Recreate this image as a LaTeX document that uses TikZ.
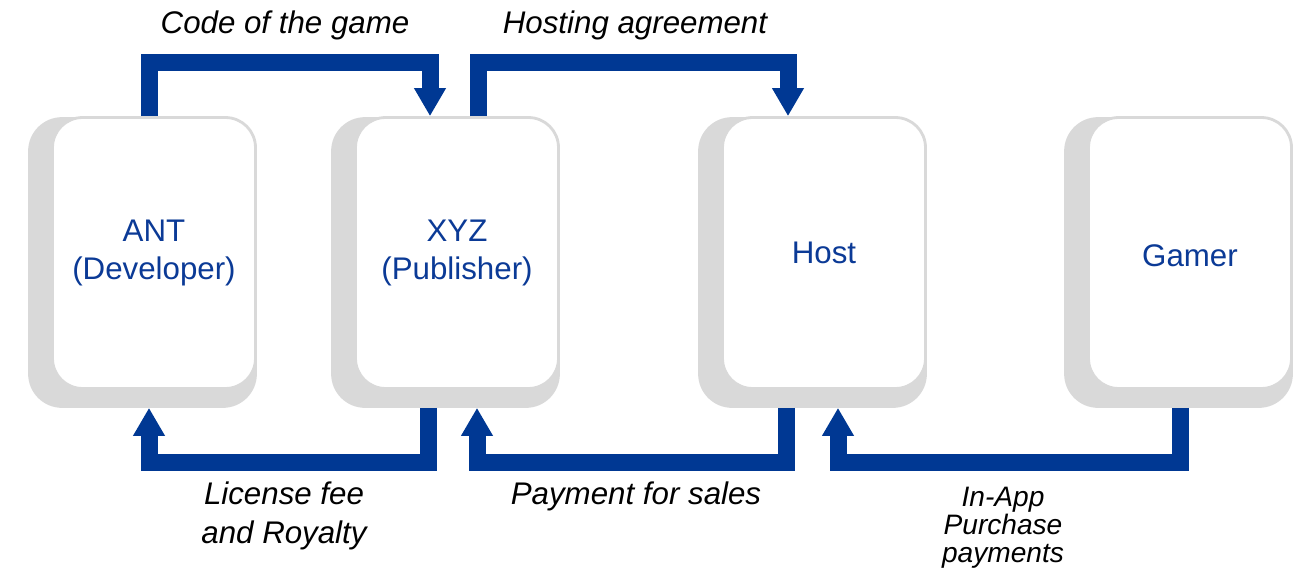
\documentclass[tikz,border=0pt]{standalone}
\usepackage{fontspec}
\setmainfont{Liberation Sans}
\usetikzlibrary{arrows.meta,calc,backgrounds}
\definecolor{flowblue}{HTML}{003893}
\definecolor{boxtext}{HTML}{0B3A96}
\definecolor{slabgray}{HTML}{D9D9D9}
\tikzset{
  party/.style={draw=slabgray, line width=1.6pt, fill=white, rounded corners=0.6cm,
    minimum width=4.06cm, minimum height=5.42cm, inner sep=0pt, align=center,
    text=boxtext, font=\fontsize{17.8}{21.5}\selectfont},
  flow/.style={draw=flowblue, line width=0.34cm, line join=miter,
    -{Triangle[length=0.56cm,width=0.6cm]}},
  lbl/.style={align=center, inner sep=0pt, text=black,
    font=\fontsize{17.8}{22}\selectfont\itshape},
  smalllbl/.style={align=center, inner sep=0pt, text=black,
    font=\fontsize{16}{16}\selectfont\itshape},
}
\begin{document}
\begin{tikzpicture}[x=0.02cm, y=-0.02cm]
\useasboundingbox (0,0) rectangle (1294,571);

% the four parties
\node[party] (ant)   at (154,253)  {ANT\\(Developer)};
\node[party] (xyz)   at (457,253)  {XYZ\\(Publisher)};
\node[party] (host)  at (824,253)  {Host};
\node[party] (gamer) at (1190,253) {\raisebox{-0.06cm}[\height][\depth]{Gamer}};

% grey slabs behind each box
\begin{scope}[on background layer]
  \foreach \n in {ant,xyz,host,gamer}
    \fill[slabgray, rounded corners=0.68cm]
      ($(\n.north west)+(-23,1)$) rectangle ($(\n.south east)+(0,18)$);
\end{scope}

% flows along the top
\draw[flow] ($(ant.north)+(-5,0)$) -- ++(0,-54) -| ($(xyz.north)+(-27,0)$);
\draw[flow] ($(xyz.north)+(21,0)$) -- ++(0,-54) -| ($(host.north)+(-36,0)$);

% flows along the bottom
\draw[flow] ($(xyz.south)+(-29,18)$) -- ++(0,54.5) -| ($(ant.south)+(-5,18)$);
\draw[flow] ($(host.south)+(-38,18)$) -- ++(0,54.5) -| ($(xyz.south)+(20,18)$);
\draw[flow] ($(gamer.south)+(-10,18)$) -- ++(0,54.5) -| ($(host.south)+(14,18)$);

% flow labels
\node[lbl] (lcode) at (285,25)  {Code of the game};
\node[lbl] (lhost) at (635,25)  {Hosting agreement};
\node[lbl] (lfee)  at (284,516) {License fee\\and Royalty};
\node[lbl] (lpay)  at (636,496) {Payment for sales};
\node[smalllbl] (liap) at (1003,528) {In-App\\Purchase\\payments};
\end{tikzpicture}
\end{document}
